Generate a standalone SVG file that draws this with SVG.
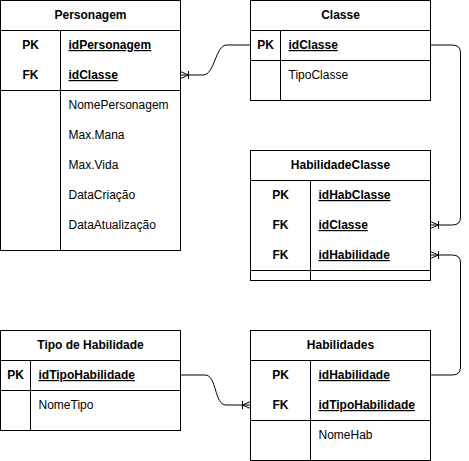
<svg xmlns="http://www.w3.org/2000/svg" width="469" height="461" viewBox="0 0 469 461">
<style>
.box{fill:#fff;stroke:#000;stroke-width:1}
.ln{fill:none;stroke:#000;stroke-width:1}
text{font-family:"Liberation Sans",Arial,Helvetica,sans-serif;font-size:12px;fill:#000}
.h{font-weight:bold;text-anchor:middle}
.k{font-weight:bold;text-anchor:middle}
.kn{font-weight:bold;text-decoration:underline}
.m{stroke:#000;stroke-width:1;fill:none}
</style>
<defs>
<marker id="many" markerWidth="12" markerHeight="10" refX="10" refY="5" orient="auto" markerUnits="userSpaceOnUse" viewBox="0 0 12 10">
<path class="m" d="M10,1.5 L2,5 L10,8.5 M2,1 V9"/>
</marker>
</defs>
<rect width="469" height="461" fill="#fff"/>
<g id="connectors">
<path class="ln" d="M250.5,45 H227 C215,45 215,75 203,75 H180.5" marker-end="url(#many)"/>
<path class="ln" d="M430.5,45 H452.5 Q460.5,45 460.5,53 V217 Q460.5,225 452.5,225 H430.5" marker-end="url(#many)"/>
<path class="ln" d="M430.5,375 H452.5 Q460.5,375 460.5,367 V263 Q460.5,255 452.5,255 H430.5" marker-end="url(#many)"/>
<path class="ln" d="M180.5,375 H205 C217,375 214,405 226,405 H250.5" marker-end="url(#many)"/>
</g>
<g id="personagem">
<rect class="box" x="0.5" y="0.5" width="180" height="250"/>
<path class="ln" d="M0.5,30.5 H180.5 M0.5,90.5 H180.5 M60.5,30.5 V250.5"/>
<text class="h" x="90.5" y="19">Personagem</text>
<text class="k" x="30.5" y="49">PK</text>
<text class="kn" x="68.5" y="49">idPersonagem</text>
<text class="k" x="30.5" y="79">FK</text>
<text class="kn" x="68.5" y="79">idClasse</text>
<text x="68.5" y="109">NomePersonagem</text>
<text x="68.5" y="139">Max.Mana</text>
<text x="68.5" y="169">Max.Vida</text>
<text x="68.5" y="199">DataCriação</text>
<text x="68.5" y="229">DataAtualização</text>
</g>
<g id="classe">
<rect class="box" x="250.5" y="0.5" width="180" height="100"/>
<path class="ln" d="M250.5,30.5 H430.5 M250.5,60.5 H430.5 M280.5,30.5 V100.5"/>
<text class="h" x="340.5" y="19">Classe</text>
<text class="k" x="265.5" y="49">PK</text>
<text class="kn" x="288.5" y="49">idClasse</text>
<text x="288.5" y="79">TipoClasse</text>
</g>
<g id="habilidadeclasse">
<rect class="box" x="250.5" y="150.5" width="180" height="130"/>
<path class="ln" d="M250.5,180.5 H430.5 M250.5,270.5 H430.5 M310.5,180.5 V280.5"/>
<text class="h" x="340.5" y="169">HabilidadeClasse</text>
<text class="k" x="280.5" y="199">PK</text>
<text class="kn" x="318.5" y="199">idHabClasse</text>
<text class="k" x="280.5" y="229">FK</text>
<text class="kn" x="318.5" y="229">idClasse</text>
<text class="k" x="280.5" y="259">FK</text>
<text class="kn" x="318.5" y="259">idHabilidade</text>
</g>
<g id="tipohabilidade">
<rect class="box" x="0.5" y="330.5" width="180" height="100"/>
<path class="ln" d="M0.5,360.5 H180.5 M0.5,390.5 H180.5 M30.5,360.5 V430.5"/>
<text class="h" x="90.5" y="349">Tipo de Habilidade</text>
<text class="k" x="15.5" y="379">PK</text>
<text class="kn" x="38.5" y="379">idTipoHabilidade</text>
<text x="38.5" y="409">NomeTipo</text>
</g>
<g id="habilidades">
<rect class="box" x="250.5" y="330.5" width="180" height="130"/>
<path class="ln" d="M250.5,360.5 H430.5 M250.5,420.5 H430.5 M310.5,360.5 V460.5"/>
<text class="h" x="340.5" y="349">Habilidades</text>
<text class="k" x="280.5" y="379">PK</text>
<text class="kn" x="318.5" y="379">idHabilidade</text>
<text class="k" x="280.5" y="409">FK</text>
<text class="kn" x="318.5" y="409">idTipoHabilidade</text>
<text x="318.5" y="439">NomeHab</text>
</g>
</svg>
